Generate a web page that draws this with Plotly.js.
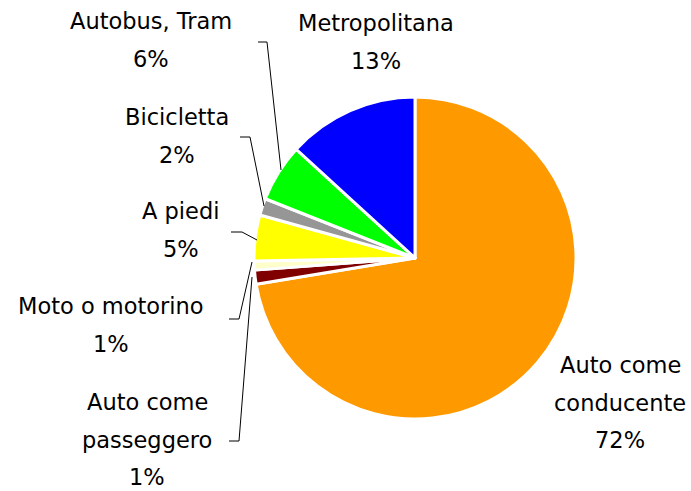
<!DOCTYPE html>
<html>
<head>
<meta charset="utf-8">
<script src="https://cdn.plot.ly/plotly-3.0.1.min.js"></script>
<style>body{margin:0;background:#fff}</style>
</head>
<body>
<div id="chart" style="width:691px;height:491px"></div>
<script>
// quote modali (%), in senso orario da ore 12
var modi = ['Auto come conducente', 'Auto come passeggero', 'Moto o motorino', 'A piedi', 'Bicicletta', 'Autobus, Tram', 'Metropolitana'];
var quote = [72.4, 1.4, 0.9, 4.6, 1.7, 5.8, 13.2];
var colori = ['#FF9900', '#800000', '#FFFFCC', '#FFFF00', '#969696', '#00FF00', '#0000FF'];

// etichette: righe di testo e posizione (pixel)
var etichette = [
  {righe: ['Auto come', 'conducente', '72%'], x: 620, y: 365},
  {righe: ['Auto come', 'passeggero', '1%'], x: 147, y: 402},
  {righe: ['Moto o motorino', '1%'], x: 111, y: 306},
  {righe: ['A piedi', '5%'], x: 181, y: 211},
  {righe: ['Bicicletta', '2%'], x: 177, y: 117},
  {righe: ['Autobus, Tram', '6%'], x: 151, y: 21},
  {righe: ['Metropolitana', '13%'], x: 376, y: 23}
];
// linee guida (pixel)
var guide = [
  [[229, 441], [239, 441], [252, 277]],
  [[229, 319], [239, 319], [252, 262]],
  [[231, 232], [242, 232], [257, 240]],
  [[240, 137], [250, 137], [264, 206]],
  [[258, 42], [267, 42], [281, 170]]
];

var W = 691, H = 491;
function px(x) { return x / W; }
function py(y) { return 1 - y / H; }

var annotations = [];
etichette.forEach(function (e) {
  e.righe.forEach(function (t, i) {
    annotations.push({
      text: t, xref: 'paper', yref: 'paper',
      x: px(e.x), y: py(e.y + i * 37.5),
      xanchor: 'center', yanchor: 'middle', showarrow: false,
      font: {family: 'DejaVu Sans', size: 22.5, color: '#000'}
    });
  });
});

var shapes = guide.map(function (g) {
  var p = g.map(function (q, i) { return (i ? 'L' : 'M') + px(q[0]) + ',' + py(q[1]); }).join(' ');
  return {type: 'path', xref: 'paper', yref: 'paper', path: p, line: {color: '#000', width: 1}};
});

var cx = 415, cy = 258, r = 161;
var data = [{
  type: 'pie',
  labels: modi,
  values: quote,
  sort: false,
  direction: 'clockwise',
  rotation: 0,
  textinfo: 'none',
  hoverinfo: 'label+percent',
  marker: {colors: colori, line: {color: '#fff', width: 3}},
  domain: {x: [px(cx - r), px(cx + r)], y: [py(cy + r), py(cy - r)]}
}];

var layout = {
  width: W, height: H,
  margin: {l: 0, r: 0, t: 0, b: 0},
  showlegend: false,
  paper_bgcolor: '#fff',
  annotations: annotations,
  shapes: shapes
};

Plotly.newPlot('chart', data, layout, {displayModeBar: false});
</script>
</body>
</html>
